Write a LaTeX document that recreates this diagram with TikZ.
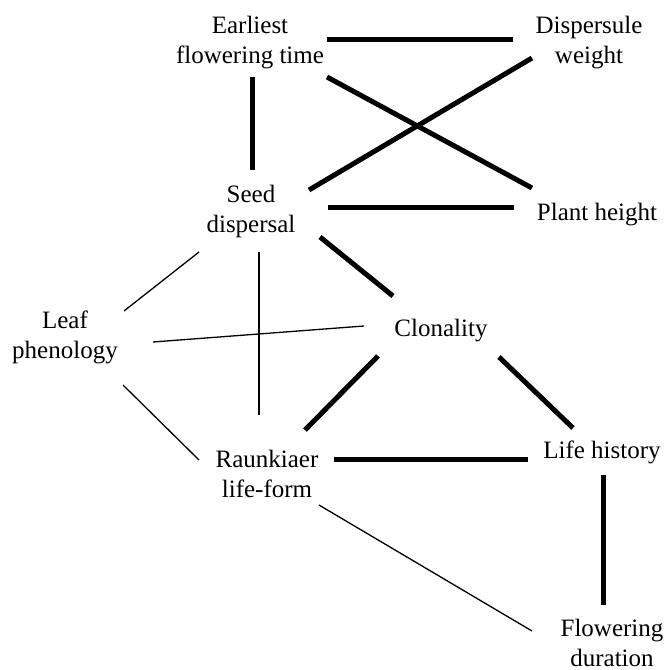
\documentclass[tikz,border=0pt]{standalone}
\usepackage{fontspec}
\setmainfont{Liberation Serif}
\usetikzlibrary{calc}
\newcommand\twoline[2]{\vtop{\halign{\hfil##\hfil\cr #1\cr #2\cr}}}
\tikzset{
  lbl/.style={anchor=base, inner sep=0pt, font=\fontsize{25}{30}\selectfont},
  strong/.style={line width=5pt},
  weak/.style={line width=1.3pt}
}
\begin{document}
\begin{tikzpicture}[x=1pt,y=-1pt]
\useasboundingbox (0,0) rectangle (664,670);
% nodes (positioned at the baseline of their first line)
\node[lbl] (ear)   at (250,33)  {\twoline{Earliest}{flowering time}};
\node[lbl] (disp)  at (589,33)  {\twoline{Dispersule}{weight}};
\node[lbl] (seed)  at (251,202) {\twoline{Seed}{dispersal}};
\node[lbl] (plant) at (597,220) {Plant height};
\node[lbl] (leaf)  at (65,328)  {\twoline{Leaf}{phenology}};
\node[lbl] (clon)  at (441,336) {Clonality};
\node[lbl] (raun)  at (267,467) {\twoline{Raunkiaer}{life-form}};
\node[lbl] (life)  at (602,458) {Life history};
\node[lbl] (flow)  at (612,636) {\twoline{Flowering}{duration}};
% strong connections
\draw[strong] ($(ear.base)+(77,6)$)    -- ($(disp.base)+(-76,6)$);
\draw[strong] ($(ear.base)+(2,44)$)    -- ($(seed.base)+(1,-32)$);
\draw[strong] ($(ear.base)+(77,44)$)   -- ($(plant.base)+(-65,-32)$);
\draw[strong] ($(seed.base)+(58,-12)$) -- ($(disp.base)+(-57,25)$);
\draw[strong] ($(seed.base)+(77,5)$)   -- ($(plant.base)+(-83,-13)$);
\draw[strong] ($(seed.base)+(69,35)$)  -- ($(clon.base)+(-48,-40)$);
\draw[strong] ($(clon.base)+(-63,20)$) -- ($(raun.base)+(38,-37)$);
\draw[strong] ($(clon.base)+(58,21)$)  -- ($(life.base)+(-29,-30)$);
\draw[strong] ($(raun.base)+(67,-8)$)  -- ($(life.base)+(-74,1)$);
\draw[strong] ($(life.base)+(1,17)$)   -- ($(flow.base)+(-9,-31)$);
% weak connections
\draw[weak] ($(seed.base)+(-52,50)$) -- ($(leaf.base)+(59,-17)$);
\draw[weak] ($(seed.base)+(8,50)$)   -- ($(raun.base)+(-8,-52)$);
\draw[weak] ($(leaf.base)+(88,14)$)  -- ($(clon.base)+(-77,-10)$);
\draw[weak] ($(leaf.base)+(58,57)$)  -- ($(raun.base)+(-68,-7)$);
\draw[weak] ($(raun.base)+(52,38)$)  -- ($(flow.base)+(-80,-5)$);
\end{tikzpicture}
\end{document}
